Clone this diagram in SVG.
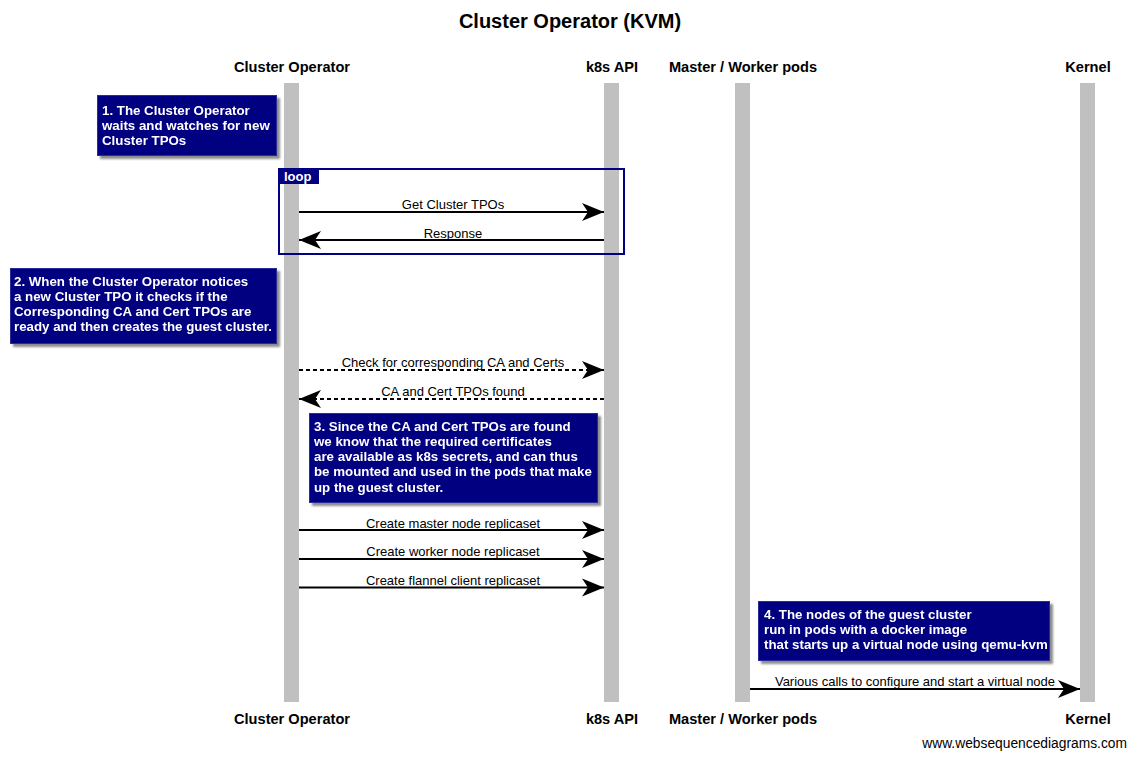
<svg xmlns="http://www.w3.org/2000/svg" width="1136" height="759" viewBox="0 0 1136 759">
<style>
.title{font-family:"Liberation Sans",Arial,sans-serif;font-weight:bold;font-size:20px;fill:#000}
.part{font-family:"Liberation Sans",Arial,sans-serif;font-weight:bold;font-size:14.6px;fill:#000}
.msg{font-family:"Liberation Sans",Arial,sans-serif;font-size:13px;fill:#000}
.note rect.bg{fill:#000080;stroke:#2a2a99;stroke-width:1}
.note text{font-family:"Liberation Sans",Arial,sans-serif;font-weight:bold;font-size:13.3px;fill:#fff}
.life{fill:#c0c0c0}
.arrow{stroke:#000;stroke-width:2;fill:none;marker-end:url(#ah)}
.dash{stroke-dasharray:4 3}
.wm{font-family:"Liberation Sans",Arial,sans-serif;font-size:13.8px;fill:#000}
</style>
<defs>
<marker id="ah" markerUnits="userSpaceOnUse" markerWidth="24" markerHeight="20" viewBox="0 0 24 20" refX="23" refY="10" orient="auto">
<path d="M1,1 L23,10 L1,19 L7,10 z" fill="#000"/>
</marker>
<filter id="sh" x="-5%" y="-10%" width="115%" height="130%">
<feGaussianBlur in="SourceAlpha" stdDeviation="1.2"/>
<feOffset dx="2.5" dy="2.5" result="b"/>
<feComponentTransfer><feFuncA type="linear" slope="0.45"/></feComponentTransfer>
<feMerge><feMergeNode/><feMergeNode in="SourceGraphic"/></feMerge>
</filter>
</defs>
<rect width="1136" height="759" fill="#fff"/>
<text class="title" x="570" y="28" text-anchor="middle">Cluster Operator (KVM)</text>

<g id="p-cluster-operator">
<rect class="life" x="284" y="83" width="15" height="619"/>
<text class="part" x="292" y="72" text-anchor="middle">Cluster Operator</text>
<text class="part" x="292" y="724" text-anchor="middle">Cluster Operator</text>
</g>
<g id="p-k8s-api">
<rect class="life" x="604" y="83" width="15" height="619"/>
<text class="part" x="612" y="72" text-anchor="middle">k8s API</text>
<text class="part" x="612" y="724" text-anchor="middle">k8s API</text>
</g>
<g id="p-master-worker">
<rect class="life" x="735" y="83" width="15" height="619"/>
<text class="part" x="743" y="72" text-anchor="middle">Master / Worker pods</text>
<text class="part" x="743" y="724" text-anchor="middle">Master / Worker pods</text>
</g>
<g id="p-kernel">
<rect class="life" x="1080" y="83" width="15" height="619"/>
<text class="part" x="1088" y="72" text-anchor="middle">Kernel</text>
<text class="part" x="1088" y="724" text-anchor="middle">Kernel</text>
</g>

<g id="note1" class="note" filter="url(#sh)">
<rect class="bg" x="97.5" y="95.5" width="179" height="60"/>
<text x="102" y="115">1. The Cluster Operator</text>
<text x="102" y="130">waits and watches for new</text>
<text x="102" y="145">Cluster TPOs</text>
</g>

<g id="loop">
<rect x="279" y="169" width="345" height="85" fill="none" stroke="#000080" stroke-width="2"/>
<path d="M279,169 H319 V184 H279 z" fill="#000080"/>
<text x="284" y="180.5" style="font-family:'Liberation Sans',Arial,sans-serif;font-weight:bold;font-size:13px;fill:#fff">loop</text>
</g>

<g id="note2" class="note" filter="url(#sh)">
<rect class="bg" x="10.5" y="268.5" width="266" height="75"/>
<text x="14" y="286">2. When the Cluster Operator notices</text>
<text x="14" y="301">a new Cluster TPO it checks if the</text>
<text x="14" y="316">Corresponding CA and Cert TPOs are</text>
<text x="14" y="331">ready and then creates the guest cluster.</text>
</g>

<g id="note3" class="note" filter="url(#sh)">
<rect class="bg" x="309.5" y="413.5" width="288" height="89"/>
<text x="314" y="431">3. Since the CA and Cert TPOs are found</text>
<text x="314" y="446">we know that the required certificates</text>
<text x="314" y="461">are available as k8s secrets, and can thus</text>
<text x="314" y="476">be mounted and used in the pods that make</text>
<text x="314" y="492">up the guest cluster.</text>
</g>

<g id="note4" class="note" filter="url(#sh)">
<rect class="bg" x="758.5" y="601.5" width="291" height="59"/>
<text x="764" y="619">4. The nodes of the guest cluster</text>
<text x="764" y="634">run in pods with a docker image</text>
<text x="764" y="649">that starts up a virtual node using qemu-kvm</text>
</g>

<g id="connectors">
<line class="arrow" x1="299" y1="212" x2="604" y2="212"/>
<text class="msg" x="453" y="209" text-anchor="middle">Get Cluster TPOs</text>
<line class="arrow" x1="604" y1="240" x2="299" y2="240"/>
<text class="msg" x="453" y="237.5" text-anchor="middle">Response</text>
<line class="arrow dash" x1="299" y1="370" x2="604" y2="370"/>
<text class="msg" x="453" y="367" text-anchor="middle">Check for corresponding CA and Certs</text>
<line class="arrow dash" x1="604" y1="399" x2="299" y2="399"/>
<text class="msg" x="453" y="396" text-anchor="middle">CA and Cert TPOs found</text>
<line class="arrow" x1="299" y1="530" x2="604" y2="530"/>
<text class="msg" x="453" y="527.5" text-anchor="middle">Create master node replicaset</text>
<line class="arrow" x1="299" y1="559" x2="604" y2="559"/>
<text class="msg" x="453" y="556" text-anchor="middle">Create worker node replicaset</text>
<line class="arrow" x1="299" y1="587.5" x2="604" y2="587.5"/>
<text class="msg" x="453" y="584.5" text-anchor="middle">Create flannel client replicaset</text>
<line class="arrow" x1="750" y1="689" x2="1080" y2="689"/>
<text class="msg" x="915" y="685.5" text-anchor="middle">Various calls to configure and start a virtual node</text>
</g>

<text class="wm" x="1127" y="748" text-anchor="end">www.websequencediagrams.com</text>
</svg>
